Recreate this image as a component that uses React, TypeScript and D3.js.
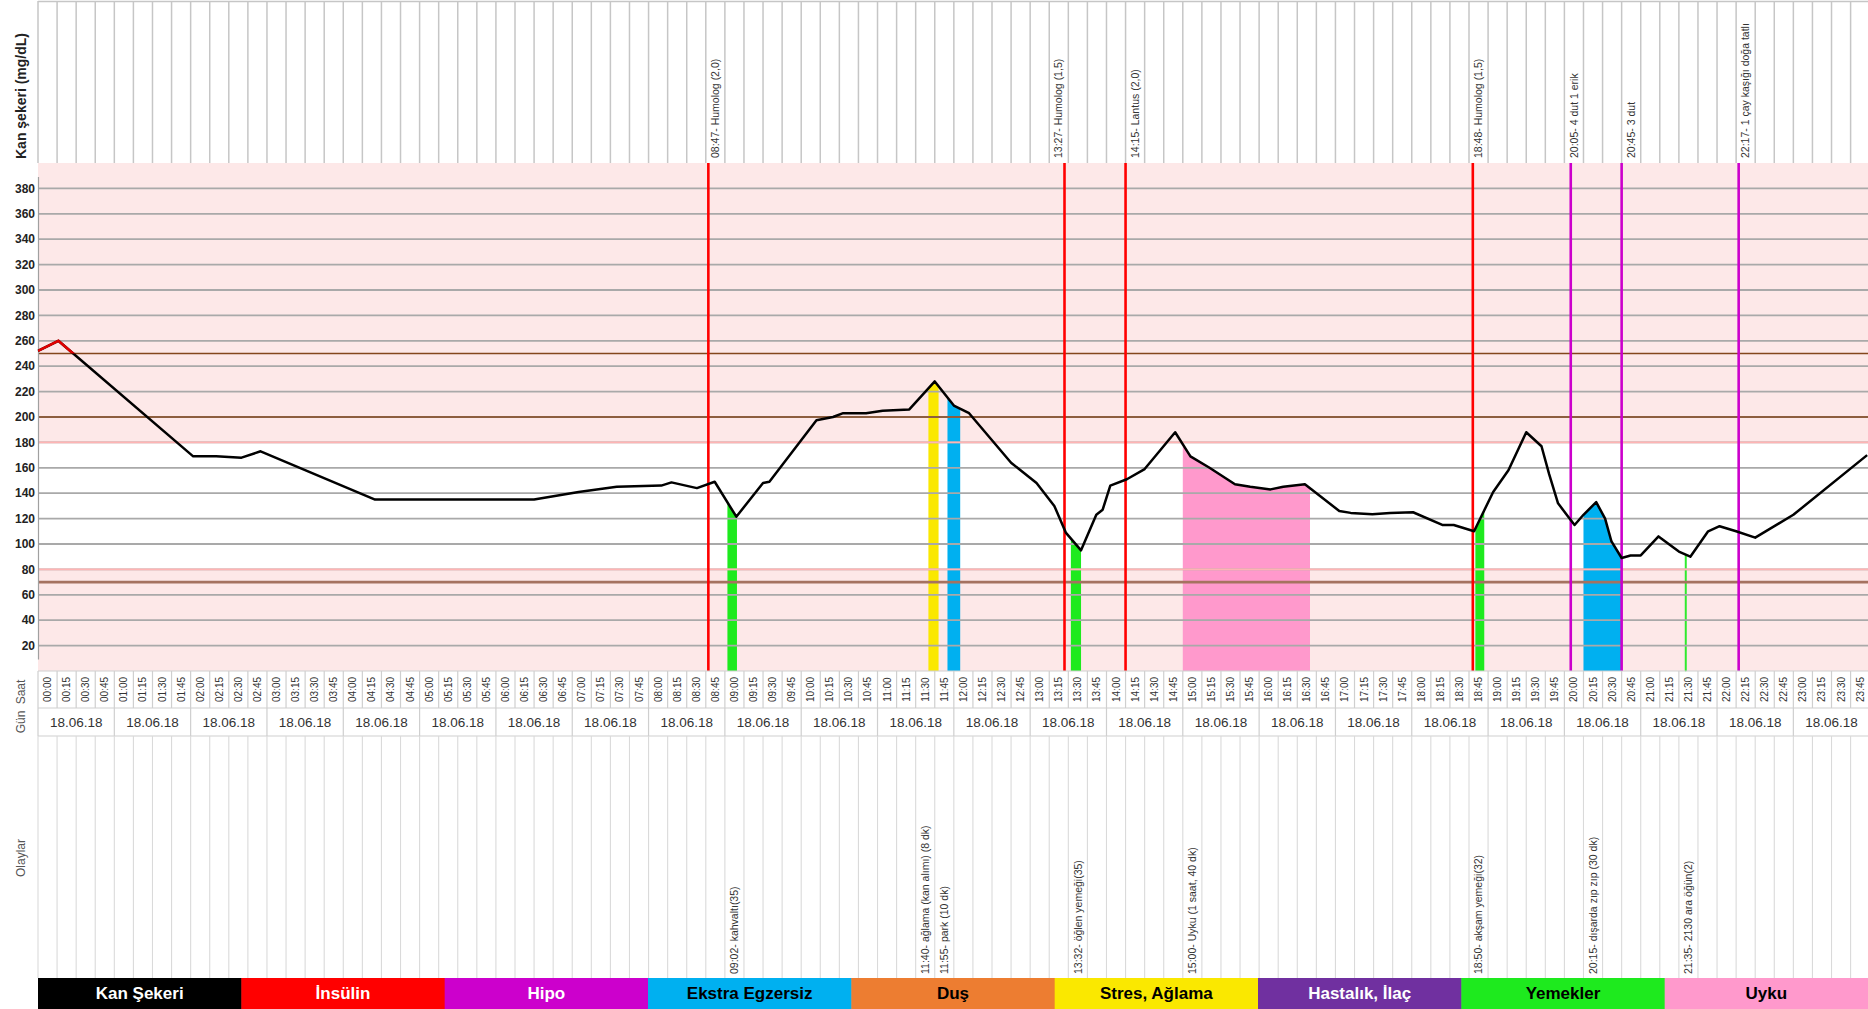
import * as d3 from "d3";
import { useEffect, useRef } from "react";

// blood sugar readings (mg/dL) through the day
const glucoseTimes = [
  "00:00", "00:16", "02:02", "02:20", "02:40", "02:55", "04:25", "06:30", "07:05", "07:35",
  "08:10", "08:18", "08:38", "08:52", "09:09", "09:30", "09:35", "10:12", "10:25", "10:33",
  "10:51", "11:04", "11:25", "11:45", "12:00", "12:12", "12:31", "12:45", "13:05", "13:19",
  "13:28", "13:40", "13:52", "13:57", "14:03", "14:16", "14:30", "14:54", "15:06", "15:21",
  "15:41", "15:53", "16:09", "16:19", "16:36", "17:03", "17:12", "17:29", "17:43", "18:01",
  "18:24", "18:33", "18:49", "19:04", "19:16", "19:30", "19:42", "19:48", "19:55", "20:03",
  "20:08", "20:15", "20:25", "20:32", "20:37", "20:45", "20:52", "21:00", "21:14", "21:30",
  "21:39", "21:53", "22:02", "22:15", "22:30", "23:00", "23:58",
];
const glucoseValues = [
  252, 260, 169, 169, 168, 173, 135, 135, 141, 145,
  146, 148.5, 144, 149, 121.5, 148, 149, 197.5, 200, 203,
  203, 205, 206, 228, 209, 203, 180.5, 164, 148, 130,
  109, 95, 123, 127, 146, 151, 159, 188, 169, 160,
  147, 145, 143, 145, 147, 126, 124.5, 123.5, 124.5, 125,
  115, 115, 110, 141, 158, 188, 177, 155, 132, 121.5,
  115, 123, 133, 120, 102, 89, 91, 91, 106, 94,
  90, 110, 114, 110, 105, 123, 170,
];

// insulin doses (top annotations, red lines)
const insulinTimes = ["08:47", "13:27", "14:15", "18:48"];
const insulinLabels = [
  "08:47- Humolog (2,0)",
  "13:27- Humolog (1,5)",
  "14:15- Lantus (2,0)",
  "18:48- Humolog (1,5)",
];

// hypo treatments (top annotations, magenta lines)
const hipoTimes = ["20:05", "20:45", "22:17"];
const hipoLabels = ["20:05- 4 dut 1 erik", "20:45- 3 dut", "22:17- 1 çay kaşığı doğa tatlı"];

// events (bottom annotations, filled under the curve)
const eventTimes = ["09:02", "11:40", "11:55", "13:32", "15:00", "18:50", "20:15", "21:35"];
const eventDurations = [7.5, 8, 10, 8, 100, 7, 30, 0.8];
const eventKinds = [
  "Yemekler", "Stres, Ağlama", "Ekstra Egzersiz", "Yemekler",
  "Uyku", "Yemekler", "Ekstra Egzersiz", "Yemekler",
];
const eventLabels = [
  "09:02- kahvaltı(35)",
  "11:40- ağlama (kan alımı) (8 dk)",
  "11:55- park (10 dk)",
  "13:32- öğlen yemeği(35)",
  "15:00- Uyku (1 saat, 40 dk)",
  "18:50- akşam yemeği(32)",
  "20:15- dışarda zıp zıp (30 dk)",
  "21:35- 2130 ara öğün(2)",
];

const legendNames = [
  "Kan Şekeri", "İnsülin", "Hipo", "Ekstra Egzersiz", "Duş",
  "Stres, Ağlama", "Hastalık, İlaç", "Yemekler", "Uyku",
];
const dayLabel = "18.06.18";
const yTicks = d3.range(20, 400, 20);
const lowLimit = 80;
const highLimit = 180;
const warnLines = [200, 250];
const hypoLimit = 70;

const colors: Record<string, string> = {
  "Kan Şekeri": "#000000",
  "İnsülin": "#ff0000",
  "Hipo": "#cc00cc",
  "Ekstra Egzersiz": "#00b0f0",
  "Duş": "#ed7d31",
  "Stres, Ağlama": "#fae800",
  "Hastalık, İlaç": "#7030a0",
  "Yemekler": "#1eea1e",
  "Uyku": "#ff99cc",
};
const whiteText = new Set(["Kan Şekeri", "İnsülin", "Hipo", "Hastalık, İlaç"]);

const W = 1868;
const H = 1009;

const toMin = (t: string) => +t.slice(0, 2) * 60 + +t.slice(3, 5);
const fmt = (m: number) => `${String(Math.floor(m / 60)).padStart(2, "0")}:${String(m % 60).padStart(2, "0")}`;

export default function App() {
  const svgRef = useRef<SVGSVGElement | null>(null);

  useEffect(() => {
    const svg = d3.select(svgRef.current);
    svg.selectAll("*").remove();

    const left = 38;
    const colW = 19.08;
    const plotTop = 163;
    const plotBottom = 671;
    const tickBottom = 708;
    const dateBottom = 736;
    const legendTop = 978;

    const x = d3.scaleLinear().domain([0, 1440]).range([left, left + 96 * colW]);
    const y = d3.scaleLinear().domain([0, 400]).range([plotBottom, plotTop]);
    const cols = d3.range(0, 1440, 15);
    const colCenter = (m: number) => x(Math.floor(m / 15) * 15 + 7.5);

    const gm = glucoseTimes.map(toMin);
    const valueAt = (m: number) => {
      const i = d3.bisectRight(gm, m);
      if (i <= 0) return glucoseValues[0];
      if (i >= gm.length) return glucoseValues[gm.length - 1];
      const t = (m - gm[i - 1]) / (gm[i] - gm[i - 1]);
      return glucoseValues[i - 1] + t * (glucoseValues[i] - glucoseValues[i - 1]);
    };

    const font = "'Liberation Sans', Arial, sans-serif";
    svg.attr("font-family", font);

    // ---- header with column grid
    const header = svg.append("g");
    header
      .selectAll("line.col")
      .data(d3.range(0, 97))
      .join("line")
      .attr("x1", (i) => x(i * 15))
      .attr("x2", (i) => x(i * 15))
      .attr("y1", 1)
      .attr("y2", plotTop)
      .attr("stroke", "#c6c6c6")
      .attr("stroke-width", 1.5);
    header
      .append("line")
      .attr("x1", left)
      .attr("x2", W)
      .attr("y1", 1.5)
      .attr("y2", 1.5)
      .attr("stroke", "#c6c6c6")
      .attr("stroke-width", 1.5);

    // ---- plot background bands
    const plot = svg.append("g");
    plot
      .append("rect")
      .attr("x", left)
      .attr("width", W - left)
      .attr("y", y(400))
      .attr("height", y(highLimit) - y(400))
      .attr("fill", "#fde8e8");
    plot
      .append("rect")
      .attr("x", left)
      .attr("width", W - left)
      .attr("y", y(lowLimit))
      .attr("height", y(0) - y(lowLimit))
      .attr("fill", "#fde8e8");

    // ---- event areas under the curve
    const area = d3
      .area<[number, number]>()
      .x((d) => x(d[0]))
      .y0(y(0))
      .y1((d) => y(d[1]));
    eventTimes.forEach((t, i) => {
      const s = toMin(t);
      const e = s + eventDurations[i];
      const pts: [number, number][] = [s, ...gm.filter((m) => m > s && m < e), e].map((m) => [m, valueAt(m)]);
      plot
        .append("path")
        .attr("d", area(pts))
        .attr("fill", colors[eventKinds[i]])
        .attr("stroke", eventDurations[i] < 2 ? colors[eventKinds[i]] : "none")
        .attr("stroke-width", 0.8);
    });

    // ---- gridlines and limit lines
    plot
      .selectAll("line.grid")
      .data(yTicks)
      .join("line")
      .attr("x1", left)
      .attr("x2", W)
      .attr("y1", (d) => y(d))
      .attr("y2", (d) => y(d))
      .attr("stroke", "#a9a9a9")
      .attr("stroke-width", 1.8);
    plot
      .selectAll("line.limit")
      .data([lowLimit, highLimit])
      .join("line")
      .attr("x1", left)
      .attr("x2", W)
      .attr("y1", (d) => y(d))
      .attr("y2", (d) => y(d))
      .attr("stroke", "#ffb4b4")
      .attr("stroke-width", 1.8);
    plot
      .selectAll("line.warn")
      .data(warnLines)
      .join("line")
      .attr("x1", left)
      .attr("x2", W)
      .attr("y1", (d) => y(d))
      .attr("y2", (d) => y(d))
      .attr("stroke", "#84461c")
      .attr("stroke-width", 1.4);
    plot
      .append("line")
      .attr("x1", left)
      .attr("x2", W)
      .attr("y1", y(hypoLimit))
      .attr("y2", y(hypoLimit))
      .attr("stroke", "#a57260")
      .attr("stroke-width", 2.6);

    // y axis
    plot
      .append("line")
      .attr("x1", left + 0.5)
      .attr("x2", left + 0.5)
      .attr("y1", y(389))
      .attr("y2", y(9))
      .attr("stroke", "#a0a0a0")
      .attr("stroke-width", 1.2);
    plot
      .selectAll("text.ytick")
      .data(yTicks)
      .join("text")
      .attr("x", left - 3)
      .attr("y", (d) => y(d))
      .attr("dy", "0.35em")
      .attr("text-anchor", "end")
      .attr("font-size", 12)
      .attr("font-weight", "bold")
      .attr("fill", "#222")
      .text((d) => d);

    // ---- insulin / hipo vertical lines + top labels
    const tops = [
      ...insulinTimes.map((t, i) => ({ t, label: insulinLabels[i], kind: "İnsülin" })),
      ...hipoTimes.map((t, i) => ({ t, label: hipoLabels[i], kind: "Hipo" })),
    ];
    tops.forEach((d) => {
      const m = toMin(d.t);
      plot
        .append("line")
        .attr("x1", x(m))
        .attr("x2", x(m))
        .attr("y1", plotTop)
        .attr("y2", plotBottom)
        .attr("stroke", colors[d.kind])
        .attr("stroke-width", 2.6);
      header
        .append("text")
        .attr("transform", `translate(${colCenter(m)},158) rotate(-90)`)
        .attr("dy", "0.35em")
        .attr("font-size", 10.5)
        .attr("fill", "#333")
        .text(d.label);
    });

    // ---- glucose line (red above 250)
    const line = d3
      .line<number>()
      .x((d, i) => x(gm[i]))
      .y((d) => y(d));
    svg
      .append("clipPath")
      .attr("id", "above250")
      .append("rect")
      .attr("x", left)
      .attr("width", W - left)
      .attr("y", plotTop)
      .attr("height", y(250) - plotTop);
    plot
      .append("path")
      .attr("d", line(glucoseValues))
      .attr("fill", "none")
      .attr("stroke", "#000")
      .attr("stroke-width", 2.5)
      .attr("stroke-linejoin", "round");
    plot
      .append("path")
      .attr("d", line(glucoseValues))
      .attr("fill", "none")
      .attr("stroke", "#e00000")
      .attr("stroke-width", 2.6)
      .attr("clip-path", "url(#above250)");

    // ---- time tick row
    const ticks = svg.append("g");
    ticks
      .selectAll("line.tc")
      .data(d3.range(0, 97))
      .join("line")
      .attr("x1", (i) => x(i * 15))
      .attr("x2", (i) => x(i * 15))
      .attr("y1", plotBottom)
      .attr("y2", tickBottom)
      .attr("stroke", "#cfcfcf")
      .attr("stroke-width", 1.2);
    ticks
      .selectAll("line.th")
      .data([plotBottom, tickBottom, dateBottom])
      .join("line")
      .attr("x1", left)
      .attr("x2", W)
      .attr("y1", (d) => d)
      .attr("y2", (d) => d)
      .attr("stroke", "#cfcfcf")
      .attr("stroke-width", 1.2);
    ticks
      .selectAll("text.tt")
      .data(cols)
      .join("text")
      .attr("transform", (m) => `translate(${x(m + 7.5)},${(plotBottom + tickBottom) / 2}) rotate(-90)`)
      .attr("dy", "0.35em")
      .attr("text-anchor", "middle")
      .attr("font-size", 10)
      .attr("fill", "#333")
      .text((m) => fmt(m));

    // ---- date row
    const hours = d3.range(0, 24);
    ticks
      .selectAll("line.dc")
      .data(d3.range(0, 25))
      .join("line")
      .attr("x1", (h) => x(h * 60))
      .attr("x2", (h) => x(h * 60))
      .attr("y1", tickBottom)
      .attr("y2", dateBottom)
      .attr("stroke", "#cfcfcf")
      .attr("stroke-width", 1.2);
    ticks
      .selectAll("text.dt")
      .data(hours)
      .join("text")
      .attr("x", (h) => x(h * 60 + 30))
      .attr("y", (tickBottom + dateBottom) / 2)
      .attr("dy", "0.35em")
      .attr("text-anchor", "middle")
      .attr("font-size", 13.5)
      .attr("fill", "#333")
      .text(dayLabel);

    // ---- events region
    const ev = svg.append("g");
    ev.selectAll("line.ec")
      .data(d3.range(0, 97))
      .join("line")
      .attr("x1", (i) => x(i * 15))
      .attr("x2", (i) => x(i * 15))
      .attr("y1", dateBottom)
      .attr("y2", legendTop)
      .attr("stroke", "#dadada")
      .attr("stroke-width", 1.1);
    eventTimes.forEach((t, i) => {
      ev.append("text")
        .attr("transform", `translate(${colCenter(toMin(t))},${legendTop - 4}) rotate(-90)`)
        .attr("dy", "0.35em")
        .attr("font-size", 10.5)
        .attr("fill", "#333")
        .text(eventLabels[i]);
    });

    // ---- left labels
    const side = svg.append("g").attr("fill", "#222");
    side
      .append("text")
      .attr("transform", `translate(21,96) rotate(-90)`)
      .attr("dy", "0.35em")
      .attr("text-anchor", "middle")
      .attr("font-size", 14)
      .attr("font-weight", "bold")
      .text("Kan şekeri (mg/dL)");
    side
      .append("text")
      .attr("transform", `translate(21,692) rotate(-90)`)
      .attr("dy", "0.35em")
      .attr("text-anchor", "middle")
      .attr("font-size", 12)
      .attr("fill", "#555")
      .text("Saat");
    side
      .append("text")
      .attr("transform", `translate(21,722) rotate(-90)`)
      .attr("dy", "0.35em")
      .attr("text-anchor", "middle")
      .attr("font-size", 12)
      .attr("fill", "#555")
      .text("Gün");
    side
      .append("text")
      .attr("transform", `translate(21,858) rotate(-90)`)
      .attr("dy", "0.35em")
      .attr("text-anchor", "middle")
      .attr("font-size", 12)
      .attr("fill", "#555")
      .text("Olaylar");

    // ---- legend
    const lw = (W - left) / legendNames.length;
    const lg = svg
      .append("g")
      .selectAll("g")
      .data(legendNames)
      .join("g")
      .attr("transform", (d, i) => `translate(${left + i * lw},${legendTop})`);
    lg.append("rect")
      .attr("width", lw + 0.5)
      .attr("height", H - legendTop)
      .attr("fill", (d) => colors[d]);
    lg.append("text")
      .attr("x", lw / 2)
      .attr("y", (H - legendTop) / 2)
      .attr("dy", "0.35em")
      .attr("text-anchor", "middle")
      .attr("font-size", 17)
      .attr("font-weight", "bold")
      .attr("fill", (d) => (whiteText.has(d) ? "#fff" : "#000"))
      .text((d) => d);
  }, []);

  return (
    <>
      <style>{`body{margin:0}`}</style>
      <svg ref={svgRef} width={W} height={H} style={{ display: "block", background: "#fff" }} />
    </>
  );
}
